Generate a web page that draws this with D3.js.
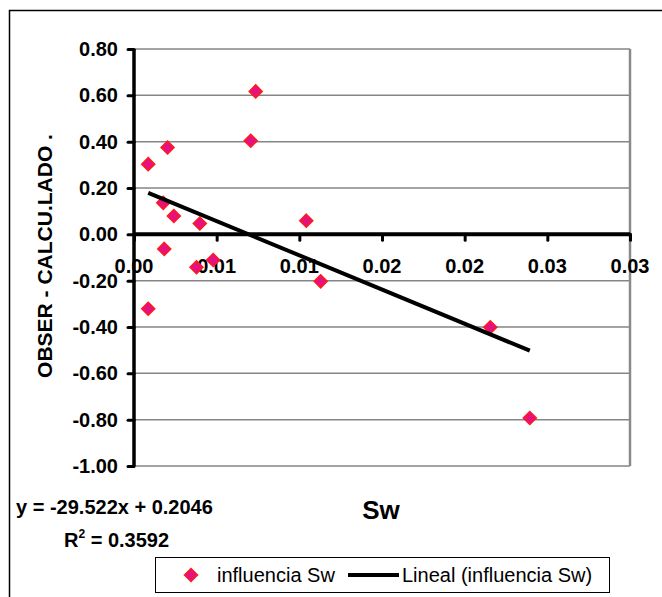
<!DOCTYPE html>
<html><head><meta charset="utf-8">
<script src="https://cdn.jsdelivr.net/npm/d3@7"></script>
<style>
html,body{margin:0;padding:0;background:#fff;}
svg{display:block;font-family:"Liberation Sans",Arial,sans-serif;}
</style></head>
<body>
<svg id="chart" width="662" height="597"></svg>
<script>
// ---- data ----
const swValues = [0.00086,0.00086,0.00177,0.00183,0.00203,0.00241,0.00378,0.00398,0.00479,0.00706,0.00736,0.01042,0.01129,0.02155,0.02394];
const residuals = [0.303,-0.321,0.136,-0.063,0.375,0.079,-0.142,0.047,-0.111,0.404,0.617,0.059,-0.203,-0.401,-0.793];
const xTickValues = [0,0.005,0.01,0.015,0.02,0.025,0.03];
const xTickLabels = ["0.00","0.01","0.01","0.02","0.02","0.03","0.03"];
const yTickValues = [-1,-0.8,-0.6,-0.4,-0.2,0,0.2,0.4,0.6,0.8];
const trendCoef = [-29.522, 0.2046]; // slope, intercept
const rSquared = "0.3592";
const seriesName = "influencia Sw";
const trendName = "Lineal (influencia Sw)";
const xTitle = "Sw";
const yTitle = "OBSER - CALCU.LADO .";

const svg = d3.select("#chart");
const x = d3.scaleLinear().domain([0,0.03]).range([134,630]);
const y = d3.scaleLinear().domain([-1,0.8]).range([466,49]);

// outer border
svg.append("path").attr("d","M9.5,600 L9.5,10.5 L670,10.5").attr("fill","none").attr("stroke","#000").attr("stroke-width",1.5);

// gridlines
svg.append("g").selectAll("line").data(yTickValues).join("line")
  .attr("x1",x(0)).attr("x2",x(0.03)).attr("y1",d=>y(d)).attr("y2",d=>y(d))
  .attr("stroke","#858585").attr("stroke-width",1.5);
// right plot border
svg.append("line").attr("x1",x(0.03)).attr("x2",x(0.03)).attr("y1",y(0.8)).attr("y2",y(-1))
  .attr("stroke","#8a8a8a").attr("stroke-width",2.5);

// y tick labels
svg.append("g").selectAll("text").data(yTickValues).join("text")
  .attr("x",118).attr("y",d=>y(d)+7)
  .attr("text-anchor","end").attr("font-size",20).attr("font-weight","bold")
  .text(d=>d.toFixed(2));

// x tick labels
svg.append("g").selectAll("text").data(xTickValues).join("text")
  .attr("x",d=>x(d)).attr("y",y(0)+39)
  .attr("text-anchor","middle").attr("font-size",20).attr("font-weight","bold")
  .text((d,i)=>xTickLabels[i]);

// y axis
const yAxis = d3.axisLeft(y).tickValues(yTickValues).tickSize(6).tickFormat("");
const gy = svg.append("g").attr("transform",`translate(${x(0)},0)`).call(yAxis);
gy.select(".domain").attr("d",`M0,${y(0.8)}V${y(-1)}`).attr("stroke","#000").attr("stroke-width",3.5);
gy.selectAll(".tick line").attr("stroke","#000").attr("stroke-width",3).attr("stroke-linecap","round");

// x axis
const xAxis = d3.axisBottom(x).tickValues(xTickValues).tickSize(6).tickFormat("");
const gx = svg.append("g").attr("transform",`translate(0,${y(0)})`).call(xAxis);
gx.select(".domain").attr("d",`M${x(0)},0H${x(0.03)}`).attr("stroke","#000").attr("stroke-width",4);
gx.selectAll(".tick line").attr("stroke","#000").attr("stroke-width",3).attr("stroke-linecap","round");

// markers
const diamond = "M0,-6.5L6.5,0L0,6.5L-6.5,0Z";
svg.append("g").selectAll("path").data(swValues).join("path")
  .attr("d",diamond)
  .attr("transform",(d,i)=>`translate(${x(d)},${y(residuals[i])})`)
  .attr("fill","#E5117F").attr("stroke","#FF1A1A").attr("stroke-width",1.5);

// trend line
const xmin = d3.min(swValues), xmax = d3.max(swValues);
const f = v => trendCoef[0]*v + trendCoef[1];
svg.append("line")
  .attr("x1",x(xmin)).attr("y1",y(f(xmin)))
  .attr("x2",x(xmax)).attr("y2",y(f(xmax)))
  .attr("stroke","#000").attr("stroke-width",4);

// y title
svg.append("text").attr("transform","translate(52,256) rotate(-90)")
  .attr("text-anchor","middle").attr("font-size",21).attr("font-weight","bold").text(yTitle);
// x title
svg.append("text").attr("x",381).attr("y",519).attr("text-anchor","middle")
  .attr("font-size",26).attr("font-weight","bold").text(xTitle);

// equation
svg.append("text").attr("x",16).attr("y",514).attr("font-size",20).attr("font-weight","bold")
  .text(`y = ${trendCoef[0]}x + ${trendCoef[1]}`);
const r2 = svg.append("text").attr("x",64).attr("y",547).attr("font-size",20).attr("font-weight","bold");
r2.append("tspan").text("R");
r2.append("tspan").attr("font-size",12).attr("dy",-9).text("2");
r2.append("tspan").attr("dy",9).text(" = " + rSquared);

// legend
const lg = svg.append("g");
lg.append("rect").attr("x",155.5).attr("y",557.5).attr("width",454).attr("height",35)
  .attr("fill","#fff").attr("stroke","#000").attr("stroke-width",1);
lg.append("path").attr("d",diamond).attr("transform","translate(191,575)")
  .attr("fill","#E5117F").attr("stroke","#FF1A1A").attr("stroke-width",1.5);
lg.append("text").attr("x",217).attr("y",582).attr("font-size",20).text(seriesName);
lg.append("line").attr("x1",348).attr("x2",399).attr("y1",575).attr("y2",575).attr("stroke","#000").attr("stroke-width",4);
lg.append("text").attr("x",402).attr("y",582).attr("font-size",20).text(trendName);
</script>
</body></html>
